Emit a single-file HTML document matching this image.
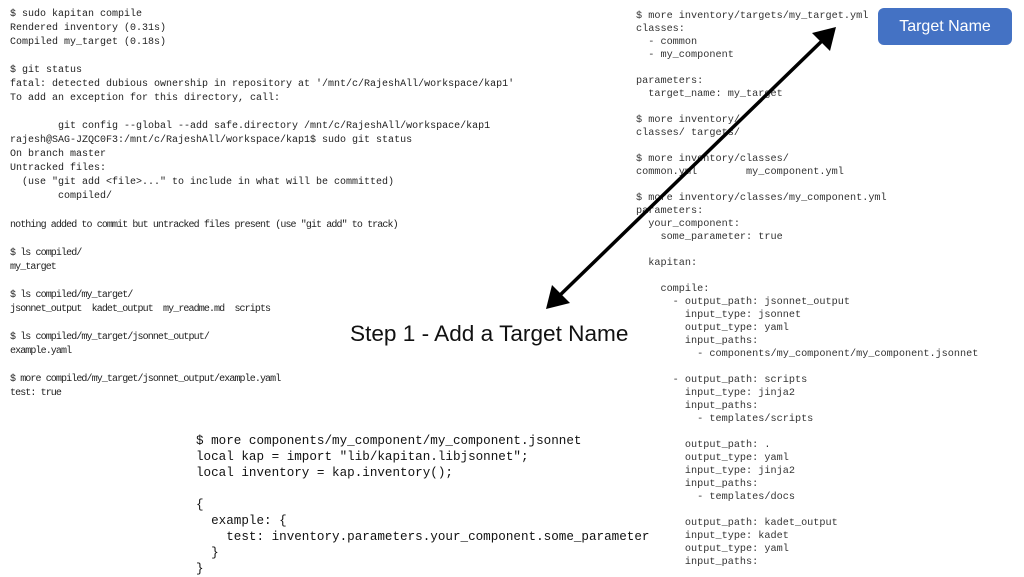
<!DOCTYPE html>
<html><head><meta charset="utf-8"><style>
body{margin:0;width:1024px;height:576px;background:#fff;position:relative;overflow:hidden;font-family:"Liberation Mono",monospace;color:#222}
pre{margin:0;position:absolute;font-family:"Liberation Mono",monospace;white-space:pre}
#l1{left:10px;top:8px;font-size:10px;line-height:14px}
#l2{left:10px;top:219px;font-size:10px;line-height:14px;letter-spacing:-0.9px}
#r{left:636px;top:10px;font-size:10.2px;line-height:13px;color:#333}
#b{left:196px;top:433px;font-size:12.6px;line-height:16px;color:#111}
#box{position:absolute;left:878px;top:8px;width:134px;height:37px;background:#4472C4;border-radius:6px;color:#fff;font-family:"Liberation Sans",sans-serif;font-size:16px;line-height:37px;text-align:center}
#step{position:absolute;left:350px;top:321px;font-family:"Liberation Sans",sans-serif;font-size:22.6px;color:#111}
</style></head><body>
<pre id="l1">$ sudo kapitan compile
Rendered inventory (0.31s)
Compiled my_target (0.18s)

$ git status
fatal: detected dubious ownership in repository at '/mnt/c/RajeshAll/workspace/kap1'
To add an exception for this directory, call:

        git config --global --add safe.directory /mnt/c/RajeshAll/workspace/kap1
rajesh@SAG-JZQC0F3:/mnt/c/RajeshAll/workspace/kap1$ sudo git status
On branch master
Untracked files:
  (use "git add &lt;file&gt;..." to include in what will be committed)
        compiled/</pre>
<pre id="l2">nothing added to commit but untracked files present (use "git add" to track)

$ ls compiled/
my_target

$ ls compiled/my_target/
jsonnet_output  kadet_output  my_readme.md  scripts

$ ls compiled/my_target/jsonnet_output/
example.yaml

$ more compiled/my_target/jsonnet_output/example.yaml
test: true</pre>
<pre id="r">$ more inventory/targets/my_target.yml
classes:
  - common
  - my_component

parameters:
  target_name: my_target

$ more inventory/
classes/ targets/

$ more inventory/classes/
common.yml        my_component.yml

$ more inventory/classes/my_component.yml
parameters:
  your_component:
    some_parameter: true

  kapitan:

    compile:
      - output_path: jsonnet_output
        input_type: jsonnet
        output_type: yaml
        input_paths:
          - components/my_component/my_component.jsonnet

      - output_path: scripts
        input_type: jinja2
        input_paths:
          - templates/scripts

        output_path: .
        output_type: yaml
        input_type: jinja2
        input_paths:
          - templates/docs

        output_path: kadet_output
        input_type: kadet
        output_type: yaml
        input_paths:</pre>
<pre id="b">$ more components/my_component/my_component.jsonnet
local kap = import "lib/kapitan.libjsonnet";
local inventory = kap.inventory();

{
  example: {
    test: inventory.parameters.your_component.some_parameter
  }
}</pre>
<div id="box">Target Name</div>
<div id="step">Step 1 - Add a Target Name</div>
<svg width="1024" height="576" style="position:absolute;left:0;top:0">
<line x1="556" y1="299" x2="826" y2="37" stroke="#000" stroke-width="3.5"/>
<polygon points="546,309 552,285 570,303" fill="#000"/>
<polygon points="836,27 812,33 830,51" fill="#000"/>
</svg>
</body></html>
